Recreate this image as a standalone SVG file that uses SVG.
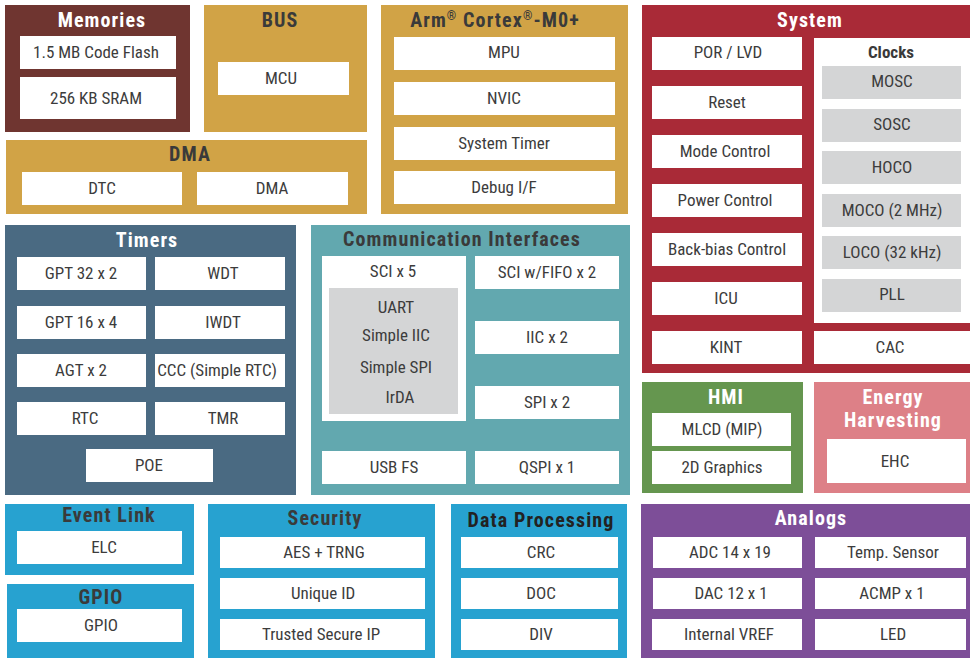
<svg xmlns="http://www.w3.org/2000/svg" width="970" height="658" viewBox="0 0 970 658">
<style>
text{font-family:"Liberation Sans Narrow","Roboto Condensed","DejaVu Sans Condensed","Liberation Sans",Arial,sans-serif;text-anchor:middle}
.b{fill:#ffffff}
.g{fill:#d4d5d6}
.t{font-size:17px;fill:#3c3c3c}
.h{font-size:20px;font-weight:bold;letter-spacing:1.1px}
.hw{fill:#ffffff}
.hd{fill:#3a3a3a}
.hk{fill:#222222}
.c{font-size:17px;font-weight:bold;fill:#3a3a3a}
.mem{fill:#6f3530}
.gold{fill:#d1a346}
.sys{fill:#a92a37}
.tim{fill:#4a6a82}
.com{fill:#62a8af}
.hmi{fill:#65964f}
.eh{fill:#dd8087}
.blu{fill:#27a2d0}
.ana{fill:#7d4e98}
</style>
<rect width="970" height="658" fill="#ffffff"/>

<g id="memories">
<rect class="mem" x="5" y="5" width="185" height="127"/>
<text class="h hw" x="102" y="27">Memories</text>
<g id="code-flash"><rect class="b" x="20" y="36" width="156" height="33"/><text class="t" x="96" y="58">1.5 MB Code Flash</text></g>
<g id="sram"><rect class="b" x="20" y="77" width="156" height="42"/><text class="t" x="96" y="104">256 KB SRAM</text></g>
</g>

<g id="bus">
<rect class="gold" x="204" y="5" width="163" height="127"/>
<text class="h hd" x="280" y="27">BUS</text>
<g id="mcu"><rect class="b" x="218" y="62" width="131" height="33"/><text class="t" x="281" y="84">MCU</text></g>
</g>

<g id="dma">
<rect class="gold" x="6" y="140" width="361" height="74"/>
<text class="h hd" x="190" y="161">DMA</text>
<g id="dtc"><rect class="b" x="22" y="172" width="160" height="33"/><text class="t" x="102" y="194">DTC</text></g>
<g id="dma-inner"><rect class="b" x="197" y="172" width="151" height="33"/><text class="t" x="272" y="194">DMA</text></g>
</g>

<g id="arm">
<rect class="gold" x="381" y="5" width="247" height="209"/>
<text class="h hd" x="495" y="27">Arm<tspan font-size="12" dy="-7">®</tspan><tspan dy="7"> Cortex</tspan><tspan font-size="12" dy="-7">®</tspan><tspan dy="7">-M0+</tspan></text>
<g id="mpu"><rect class="b" x="394" y="37" width="221" height="33"/><text class="t" x="504" y="58">MPU</text></g>
<g id="nvic"><rect class="b" x="394" y="82" width="221" height="33"/><text class="t" x="504" y="104">NVIC</text></g>
<g id="systimer"><rect class="b" x="394" y="127" width="221" height="33"/><text class="t" x="504" y="149">System Timer</text></g>
<g id="debug"><rect class="b" x="394" y="171" width="221" height="33"/><text class="t" x="504" y="193">Debug I/F</text></g>
</g>

<g id="system">
<rect class="sys" x="642" y="5" width="328" height="368"/>
<text class="h hw" x="810" y="27">System</text>
<g id="por"><rect class="b" x="652" y="37" width="150" height="33"/><text class="t" x="728" y="58">POR / LVD</text></g>
<g id="reset"><rect class="b" x="652" y="86" width="150" height="33"/><text class="t" x="727" y="108">Reset</text></g>
<g id="mode"><rect class="b" x="652" y="135" width="150" height="33"/><text class="t" x="725" y="157">Mode Control</text></g>
<g id="power"><rect class="b" x="652" y="184" width="150" height="33"/><text class="t" x="725" y="206">Power Control</text></g>
<g id="backbias"><rect class="b" x="652" y="233" width="150" height="33"/><text class="t" x="727" y="255">Back-bias Control</text></g>
<g id="icu"><rect class="b" x="652" y="282" width="150" height="33"/><text class="t" x="726" y="304">ICU</text></g>
<g id="kint"><rect class="b" x="652" y="331" width="150" height="33"/><text class="t" x="726" y="353">KINT</text></g>
<g id="clocks">
<rect class="b" x="814" y="38" width="156" height="285"/>
<text class="c" x="891" y="58">Clocks</text>
<g id="mosc"><rect class="g" x="822" y="66" width="139" height="33"/><text class="t" x="892" y="87">MOSC</text></g>
<g id="sosc"><rect class="g" x="822" y="109" width="139" height="33"/><text class="t" x="892" y="130">SOSC</text></g>
<g id="hoco"><rect class="g" x="822" y="151" width="139" height="33"/><text class="t" x="892" y="173">HOCO</text></g>
<g id="moco"><rect class="g" x="822" y="194" width="139" height="33"/><text class="t" x="892" y="216">MOCO (2 MHz)</text></g>
<g id="loco"><rect class="g" x="822" y="236" width="139" height="33"/><text class="t" x="892" y="258">LOCO (32 kHz)</text></g>
<g id="pll"><rect class="g" x="822" y="279" width="139" height="33"/><text class="t" x="892" y="300">PLL</text></g>
</g>
<g id="cac"><rect class="b" x="814" y="331" width="156" height="33"/><text class="t" x="890" y="353">CAC</text></g>
</g>

<g id="timers">
<rect class="tim" x="5" y="225" width="291" height="270"/>
<text class="h hw" x="147" y="247">Timers</text>
<g id="gpt32"><rect class="b" x="17" y="257" width="129" height="33"/><text class="t" x="81" y="279">GPT 32 x 2</text></g>
<g id="wdt"><rect class="b" x="155" y="257" width="130" height="33"/><text class="t" x="223" y="279">WDT</text></g>
<g id="gpt16"><rect class="b" x="17" y="306" width="129" height="33"/><text class="t" x="81" y="328">GPT 16 x 4</text></g>
<g id="iwdt"><rect class="b" x="155" y="306" width="130" height="33"/><text class="t" x="223" y="328">IWDT</text></g>
<g id="agt"><rect class="b" x="17" y="354" width="129" height="33"/><text class="t" x="81" y="376">AGT x 2</text></g>
<g id="ccc"><rect class="b" x="155" y="354" width="130" height="33"/><text class="t" x="217" y="376">CCC (Simple RTC)</text></g>
<g id="rtc"><rect class="b" x="17" y="402" width="129" height="33"/><text class="t" x="85" y="424">RTC</text></g>
<g id="tmr"><rect class="b" x="155" y="402" width="130" height="33"/><text class="t" x="223" y="424">TMR</text></g>
<g id="poe"><rect class="b" x="86" y="449" width="127" height="33"/><text class="t" x="149" y="471">POE</text></g>
</g>

<g id="comm">
<rect class="com" x="311" y="225" width="319" height="270"/>
<text class="h hd" x="462" y="246">Communication Interfaces</text>
<g id="sci5">
<rect class="b" x="322" y="256" width="144" height="165"/>
<text class="t" x="393" y="277">SCI x 5</text>
<rect class="g" x="329" y="288" width="129" height="126"/>
<text class="t" x="396" y="313">UART</text>
<text class="t" x="396" y="341">Simple IIC</text>
<text class="t" x="396" y="373">Simple SPI</text>
<text class="t" x="400" y="403">IrDA</text>
</g>
<g id="scififo"><rect class="b" x="475" y="256" width="144" height="33"/><text class="t" x="547" y="278">SCI w/FIFO x 2</text></g>
<g id="iic"><rect class="b" x="475" y="321" width="144" height="33"/><text class="t" x="547" y="343">IIC x 2</text></g>
<g id="spi"><rect class="b" x="475" y="386" width="144" height="33"/><text class="t" x="547" y="408">SPI x 2</text></g>
<g id="usb"><rect class="b" x="322" y="451" width="144" height="33"/><text class="t" x="394" y="473">USB FS</text></g>
<g id="qspi"><rect class="b" x="475" y="451" width="144" height="33"/><text class="t" x="547" y="473">QSPI x 1</text></g>
</g>

<g id="hmi">
<rect class="hmi" x="642" y="382" width="161" height="111"/>
<text class="h hw" x="726" y="404">HMI</text>
<g id="mlcd"><rect class="b" x="652" y="413" width="139" height="33"/><text class="t" x="722" y="435">MLCD (MIP)</text></g>
<g id="graphics2d"><rect class="b" x="652" y="451" width="139" height="33"/><text class="t" x="722" y="473">2D Graphics</text></g>
</g>

<g id="energy">
<rect class="eh" x="814" y="382" width="156" height="111"/>
<text class="h hw" x="893" y="404">Energy</text>
<text class="h hw" x="893" y="427">Harvesting</text>
<g id="ehc"><rect class="b" x="827" y="439" width="139" height="44"/><text class="t" x="895" y="467">EHC</text></g>
</g>

<g id="eventlink">
<rect class="blu" x="5" y="504" width="189" height="71"/>
<text class="h hd" x="109" y="522">Event Link</text>
<g id="elc"><rect class="b" x="17" y="531" width="165" height="33"/><text class="t" x="104" y="553">ELC</text></g>
</g>

<g id="gpio">
<rect class="blu" x="7" y="584" width="187" height="74"/>
<text class="h hd" x="101" y="604">GPIO</text>
<g id="gpio-inner"><rect class="b" x="17" y="609" width="165" height="33"/><text class="t" x="101" y="631">GPIO</text></g>
</g>

<g id="security">
<rect class="blu" x="208" y="504" width="227" height="154"/>
<text class="h hd" x="325" y="525">Security</text>
<g id="aes"><rect class="b" x="220" y="537" width="205" height="31"/><text class="t" x="324" y="558">AES + TRNG</text></g>
<g id="uid"><rect class="b" x="220" y="578" width="205" height="31"/><text class="t" x="323" y="599">Unique ID</text></g>
<g id="tsip"><rect class="b" x="220" y="619" width="205" height="31"/><text class="t" x="321" y="640">Trusted Secure IP</text></g>
</g>

<g id="dataproc">
<rect class="blu" x="451" y="504" width="176" height="154"/>
<text class="h hk" x="541" y="527">Data Processing</text>
<g id="crc"><rect class="b" x="461" y="537" width="157" height="31"/><text class="t" x="541" y="558">CRC</text></g>
<g id="doc"><rect class="b" x="461" y="578" width="157" height="31"/><text class="t" x="541" y="599">DOC</text></g>
<g id="div"><rect class="b" x="461" y="619" width="157" height="31"/><text class="t" x="541" y="640">DIV</text></g>
</g>

<g id="analogs">
<rect class="ana" x="641" y="504" width="329" height="154"/>
<text class="h hw" x="811" y="525">Analogs</text>
<g id="adc"><rect class="b" x="653" y="537" width="149" height="31"/><text class="t" x="730" y="558">ADC 14 x 19</text></g>
<g id="temp"><rect class="b" x="815" y="537" width="151" height="31"/><text class="t" x="893" y="558">Temp. Sensor</text></g>
<g id="dac"><rect class="b" x="653" y="578" width="149" height="31"/><text class="t" x="731" y="599">DAC 12 x 1</text></g>
<g id="acmp"><rect class="b" x="815" y="578" width="151" height="31"/><text class="t" x="892" y="599">ACMP x 1</text></g>
<g id="vref"><rect class="b" x="652" y="619" width="150" height="31"/><text class="t" x="729" y="640">Internal VREF</text></g>
<g id="led"><rect class="b" x="815" y="619" width="151" height="31"/><text class="t" x="893" y="640">LED</text></g>
</g>

<g id="connectors"/>
</svg>
